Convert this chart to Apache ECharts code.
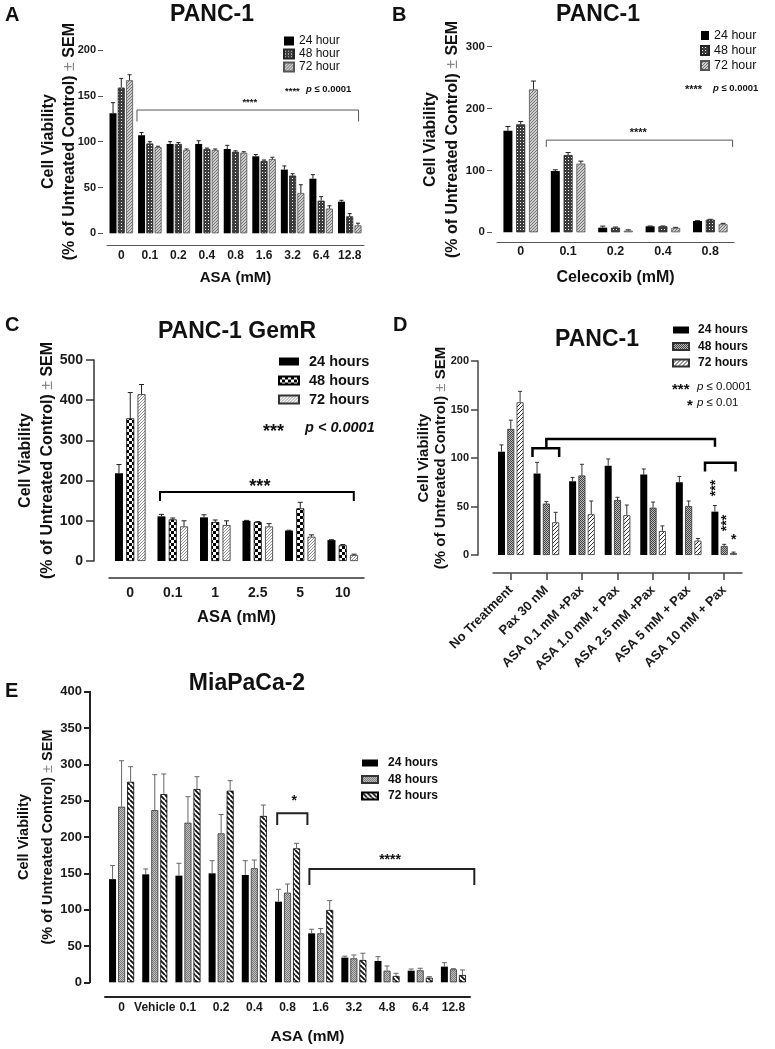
<!DOCTYPE html>
<html><head><meta charset="utf-8">
<script src="https://cdn.jsdelivr.net/npm/echarts@6/dist/echarts.min.js"></script>
<style>html,body{margin:0;padding:0;background:#fff}#c{width:775px;height:1049px}</style>
</head><body><div id="c"></div>
<script>
// ================= DATA =================
// Panel A : PANC-1, ASA
const catsA = ['0','0.1','0.2','0.4','0.8','1.6','3.2','6.4','12.8'];
const a24  = [131,107,97.5,97.5,92,84,69.5,59.6,34.5];
const a24e = [11.5,3,2.5,3.5,4,2,4,4.4,1.5];
const a48  = [159,98,97.5,92,89,79,63,35.6,18.5];
const a48e = [10,2,1.5,1,1,1,2,4.4,3];
const a72  = [167,94,91,91,88,81,44,27,8.7];
const a72e = [6,1,1,1,1,2,9,3,2.3];
// Panel B : PANC-1, Celecoxib
const catsB = ['0','0.1','0.2','0.4','0.8'];
const b24  = [164,99,7.5,9.7,18.3];
const b24e = [7,2,2.5,0.5,0.5];
const b48  = [174.5,125,7.5,9.7,20.5];
const b48e = [4.5,4,1,0.5,0.5];
const b72  = [231,111,2.7,7,13];
const b72e = [13.5,4,1.3,1,1.5];
// Panel C : PANC-1 GemR, ASA
const catsC = ['0','0.1','1','2.5','5','10'];
const c24  = [218,111,108.6,100,75.5,52];
const c24e = [22,5,6.4,1,1,1];
const c48  = [355,103.6,97,97,131,39];
const c48e = [64,3.4,5,1,15,2];
const c72  = [415,86,89.5,86,60.5,15];
const c72e = [24,14,10.5,7,4.5,2];
// Panel D : PANC-1, ASA + Paclitaxel
const catsD = ['No Treatment','Pax 30 nM','ASA 0.1 mM +Pax','ASA 1.0 mM + Pax','ASA 2.5 mM +Pax','ASA 5 mM + Pax','ASA 10 mM + Pax'];
const d24  = [106.5,84,76,92,83,75,44.7];
const d24e = [7,11.5,4,7,5.7,6,6.3];
const d48  = [130,53,82,56.7,48.8,50.5,9.3];
const d48e = [9,2,11.5,2.8,5.8,5.2,1.7];
const d72  = [157.4,33.7,42,41,24.7,14.8,2];
const d72e = [11.3,10.3,13.7,10.5,5.3,2.2,1];
// Panel E : MiaPaCa-2, ASA
const catsE = ['0','Vehicle','0.1','0.2','0.4','0.8','1.6','3.2','4.8','6.4','12.8'];
const e24  = [142,148.6,146.8,150,147.7,111,67.4,34,29.4,16,21.6];
const e24e = [18.6,7.4,17,17.4,19.7,17,5.6,2,5.9,2.3,5.4];
const e48  = [241.7,237,219.7,205,157,123.4,67.4,33,16,16.5,17.9];
const e48e = [63.3,48.8,35.8,26,11.3,11.9,6.6,4.6,6.5,2.8,0.9];
const e72  = [276,259,266,263.8,229,184.4,99.5,30.7,8.7,6.4,10];
const e72e = [20.8,27.7,17,13.7,15,6.9,12.9,9.3,3.7,1.4,7];
// series names
const namesAB = ['24 hour','48 hour','72 hour'];
const namesCDE = ['24 hours','48 hours','72 hours'];
// significance brackets: [xStart, xEnd, yTop, yLeftEnd, yRightEnd] (category units, data units)
const brA = [[0.55,8.31,134.5,122,122]];
const brB = [[0.54,4.47,149,138,138]];
const brC = [[0.7,5.26,171.6,149,149]];
const brD = [[0.61,1.36,110,101,101],[1.0,5.74,119.6,110,111.6],[5.46,6.32,95,86,86]];
const brE = [[4.69,5.6,232.6,216.5,216.5],[5.66,10.63,156,134,134]];
// star labels: [x, y, text, rotation]
const stA = [[4.5,145,'****',0]];
const stB = [[2.48,165,'****',0]];
const stC = [[3.05,194,'***',0]];
const stD = [[5.68,69,'***',90],[5.99,33,'***',90],[6.27,18.5,'*',0]];
const stE = [[5.2,253.6,'*',0],[8.09,172.9,'****',0]];

// ================= STYLE =================
const FF = "'Liberation Sans', Arial, Helvetica, sans-serif";
function pat(w,h,draw){const c=document.createElement('canvas');c.width=w;c.height=h;const g=c.getContext('2d');draw(g,w,h);return {image:c,repeat:'repeat'};}
function hatch(s,lw,fg,bg,dir){return pat(s,s,g=>{g.fillStyle=bg;g.fillRect(0,0,s,s);g.strokeStyle=fg;g.lineWidth=lw;g.beginPath();for(let o=-s;o<=s;o+=s){if(dir>0){g.moveTo(o,s);g.lineTo(o+s,0);}else{g.moveTo(o,0);g.lineTo(o+s,s);}}g.stroke();});}
function checker(cell,a,b){return pat(cell*2,cell*2,g=>{g.fillStyle=b;g.fillRect(0,0,cell*2,cell*2);g.fillStyle=a;g.fillRect(0,0,cell,cell);g.fillRect(cell,cell,cell,cell);});}
function dots(s,bg,fg){return pat(s,s,g=>{g.fillStyle=bg;g.fillRect(0,0,s,s);g.fillStyle=fg;g.fillRect(1,1,1,1);});}

const pAB48 = dots(3,'#3c3c3c','#ffffff');
const pAB72 = hatch(3,1,'#777','#cccccc',1);
const pC48 = checker(3,'#000','#fff');
const pC72 = hatch(3,0.8,'#777','#fff',1);
const pD48 = checker(1,'#444','#bbb');
const pD72 = hatch(4,1,'#333','#fff',1);
const pE48 = checker(1,'#7a7a7a','#c0c0c0');
const pE72 = hatch(5,1.8,'#111','#fff',-1);

const panels = [
 {key:'A', cats:catsA, vals:[a24,a48,a72], errs:[a24e,a48e,a72e], names:namesAB,
  fills:['#000',pAB48,pAB72], borders:['#000','#222','#555'],
  grid:[107,50,257,183.3], ymax:200, yint:50, yoff:4, yLine:false, yTick:5, yFS:11, yMargin:7,
  nameGap:22.5, nameFS:16, nameLH:21, xoff:12, xFS:12, xMargin:4, xName:'ASA (mM)', xNameGap:25, xNameFS:15, xNamePad:0,
  xTick:false, xRot:0, axisColor:'#555', axisW:1, bw:7, gap:0.18, errColor:'#222', cap:4, errW:1,
  brColor:'#555', brW:1, stFS:9.5, br:brA, st:stA,
  legend:{left:283,top:35,iw:10,ih:9,gap:1,fs:12,fw:'normal',pad:0}},
 {key:'B', cats:catsB, vals:[b24,b48,b72], errs:[b24e,b48e,b72e], names:namesAB,
  fills:['#000',pAB48,pAB72], borders:['#000','#222','#555'],
  grid:[497,46.7,237,185.6], ymax:300, yint:100, yoff:5, yLine:false, yTick:5, yFS:11.5, yMargin:7,
  nameGap:28, nameFS:16, nameLH:22, xoff:10, xFS:12.5, xMargin:3, xName:'Celecoxib (mM)', xNameGap:27, xNameFS:16, xNamePad:0,
  xTick:false, xRot:0, axisColor:'#555', axisW:1, bw:9, gap:0.42, errColor:'#222', cap:5, errW:1,
  brColor:'#555', brW:1, stFS:11, br:brB, st:stB,
  legend:{left:700,top:29,iw:8,ih:9,gap:2,fs:12.5,fw:'normal',pad:0}},
 {key:'C', cats:catsC, vals:[c24,c48,c72], errs:[c24e,c48e,c72e], names:namesCDE,
  fills:['#000',pC48,pC72], borders:['#000','#000','#333'],
  grid:[109,360,255,201], ymax:500, yint:100, yoff:15, yLine:true, yTick:8, yFS:14, yMargin:11,
  nameGap:35, nameFS:16, nameLH:22, xoff:17, xFS:14, xMargin:8, xName:'ASA (mM)', xNameGap:31, xNameFS:16.5, xNamePad:0,
  xTick:false, xRot:0, axisColor:'#333', axisW:1.5, bw:8, gap:0.41, errColor:'#222', cap:5, errW:1,
  brColor:'#000', brW:2, stFS:18, br:brC, st:stC,
  legend:{left:278,top:354,iw:20,ih:8,gap:4,fs:14.5,fw:'bold',pad:5}},
 {key:'D', cats:catsD, vals:[d24,d48,d72], errs:[d24e,d48e,d72e], names:namesCDE,
  fills:['#000',pD48,pD72], borders:['#000','#333','#333'],
  grid:[493,361,249,194], ymax:200, yint:50, yoff:15, yLine:true, yTick:7, yFS:11, yMargin:9,
  nameGap:29, nameFS:15, nameLH:17, xoff:18, xFS:13, xMargin:15, xName:'', xNameGap:0, xNameFS:12, xNamePad:0,
  xTick:true, xRot:45, axisColor:'#444', axisW:1.5, bw:7, gap:0.33, errColor:'#333', cap:4, errW:1,
  brColor:'#000', brW:2.5, stFS:14, br:brD, st:stD,
  legend:{left:672,top:324,iw:16,ih:7,gap:4.5,fs:12,fw:'bold',pad:4}},
 {key:'E', cats:catsE, vals:[e24,e48,e72], errs:[e24e,e48e,e72e], names:namesCDE,
  fills:['#000',pE48,pE72], borders:['#000','#333','#000'],
  grid:[105,691.7,365,290.6], ymax:400, yint:50, yoff:15, yLine:true, yTick:6, yFS:13, yMargin:8,
  nameGap:30, nameFS:14.5, nameLH:24, xoff:14, xFS:12, xMargin:5, xName:'ASA (mM)', xNameGap:32, xNameFS:15.5, xNamePad:40,
  xTick:false, xRot:0, axisColor:'#222', axisW:2, bw:7, gap:0.29, errColor:'#666', cap:5, errW:1,
  brColor:'#222', brW:2, stFS:14, br:brE, st:stE,
  legend:{left:361,top:757,iw:16,ih:7,gap:4.5,fs:12,fw:'bold',pad:5}}
];

const grids=[], xAxes=[], yAxes=[], legends=[], series=[];
panels.forEach((P,gi)=>{
  grids.push({left:P.grid[0],top:P.grid[1],width:P.grid[2],height:P.grid[3],containLabel:false,outerBoundsMode:'none'});
  xAxes.push({type:'category',gridIndex:gi,data:P.cats,offset:P.xoff,
    axisLine:{show:true,onZero:false,lineStyle:{color:P.axisColor,width:P.axisW}},
    axisTick:{show:P.xTick,alignWithLabel:true,length:7,lineStyle:{color:P.axisColor,width:P.axisW}},
    axisLabel:{interval:0,rotate:P.xRot,fontSize:P.xFS,fontWeight:'bold',fontFamily:FF,color:'#1a1a1a',margin:P.xMargin},
    splitLine:{show:false},
    name:P.xName,nameLocation:'middle',nameGap:P.xNameGap,nameMoveOverlap:false,
    nameTextStyle:{fontSize:P.xNameFS,fontWeight:'bold',fontFamily:FF,color:'#111',padding:[0,0,0,P.xNamePad]}});
  xAxes.push({type:'value',gridIndex:gi,min:-0.5,max:P.cats.length-0.5,show:false,axisLine:{onZero:false}});
  yAxes.push({type:'value',gridIndex:gi,min:0,max:P.ymax,interval:P.yint,offset:P.yoff,
    axisLine:{show:P.yLine,onZero:false,lineStyle:{color:P.axisColor,width:P.axisW}},
    axisTick:{show:true,length:P.yTick,lineStyle:{color:P.axisColor,width:P.axisW}},
    axisLabel:{fontSize:P.yFS,fontWeight:'bold',fontFamily:FF,color:'#1a1a1a',margin:P.yMargin},
    splitLine:{show:false},
    name:'Cell Viability\n(% of Untreated Control) {pm|±} SEM',nameLocation:'middle',nameRotate:90,nameGap:P.nameGap,
    nameMoveOverlap:false,
    nameTextStyle:{fontSize:P.nameFS,fontWeight:'bold',fontFamily:FF,color:'#111',lineHeight:P.nameLH,
      rich:{pm:{fontSize:P.nameFS,fontWeight:'normal',fontFamily:FF,color:'#888',lineHeight:P.nameLH}}}});
  const L=P.legend;
  legends.push({data:P.names.map(n=>P.key+'|'+n),left:L.left,top:L.top,orient:'vertical',icon:'rect',
    itemWidth:L.iw,itemHeight:L.ih,itemGap:L.gap,selectedMode:false,padding:0,
    formatter:n=>n.split('|')[1],
    textStyle:{fontFamily:FF,fontSize:L.fs,fontWeight:L.fw,color:'#111',padding:[0,0,0,L.pad]}});
  const step=P.bw*(1+P.gap);
  P.vals.forEach((vals,k)=>{
    series.push({type:'bar',name:P.key+'|'+P.names[k],xAxisIndex:gi*2,yAxisIndex:gi,data:vals,
      barWidth:P.bw,barGap:(P.gap*100)+'%',silent:true,z:2,
      itemStyle:{color:P.fills[k],borderColor:P.borders[k],borderWidth:k===0?0:0.8}});
    const errs=P.errs[k];
    const off=(k-1)*step;
    series.push({type:'custom',xAxisIndex:gi*2,yAxisIndex:gi,silent:true,z:4,
      data:vals.map((v,i)=>[i,v,v+errs[i]]),encode:{x:0,y:[1,2]},
      renderItem:(params,api)=>{
        const i=api.value(0);
        const p0=api.coord([i,api.value(1)]);
        const p1=api.coord([i,api.value(2)]);
        const x=p0[0]+off;
        return {type:'group',children:[
          {type:'line',shape:{x1:x,y1:p0[1],x2:x,y2:p1[1]},style:{stroke:P.errColor,lineWidth:P.errW}},
          {type:'line',shape:{x1:x-P.cap/2,y1:p1[1],x2:x+P.cap/2,y2:p1[1]},style:{stroke:P.errColor,lineWidth:P.errW}}]};
      }});
  });
  series.push({type:'custom',xAxisIndex:gi*2+1,yAxisIndex:gi,silent:true,z:5,
    data:P.br,encode:{x:[0,1],y:[2,3,4]},
    renderItem:(params,api)=>{
      const x1=api.value(0),x2=api.value(1),yt=api.value(2),yl=api.value(3),yr=api.value(4);
      return {type:'polyline',shape:{points:[api.coord([x1,yl]),api.coord([x1,yt]),api.coord([x2,yt]),api.coord([x2,yr])]},
        style:{stroke:P.brColor,lineWidth:P.brW,fill:null}};
    }});
  series.push({type:'custom',xAxisIndex:gi*2+1,yAxisIndex:gi,silent:true,z:6,
    data:P.st.map(s=>[s[0],s[1]]),encode:{x:0,y:1},
    renderItem:(params,api)=>{
      const s=P.st[params.dataIndex];
      const p=api.coord([s[0],s[1]]);
      const sh=0.24*P.stFS;
      const rot=s[3]||0;
      return {type:'text',x:p[0]+(rot?sh:0),y:p[1]+(rot?0:sh),rotation:rot*Math.PI/180,
        style:{text:s[2],fontSize:P.stFS,fontWeight:'bold',fontFamily:FF,fill:'#111',align:'center',verticalAlign:'middle'}};
    }});
});

function T(x,y,text,fs,opt){opt=opt||{};return {type:'text',x:x,y:y,z:10,silent:true,
  style:Object.assign({text:text,fontSize:fs,fontWeight:'bold',fontFamily:FF,fill:'#111',align:'left',verticalAlign:'middle'},opt)};}
const italP = (fs,fw)=>({p:{fontStyle:'italic',fontWeight:fw,fontSize:fs,fontFamily:FF,fill:'#111'}});
const graphic=[
  T(5,15.5,'A',20), T(392,15.5,'B',20), T(5,325,'C',20), T(393,325,'D',20), T(5,691,'E',20),
  T(212,15,'PANC-1',23,{align:'center'}), T(598,15,'PANC-1',23,{align:'center'}),
  T(237,332,'PANC-1 GemR',23,{align:'center'}), T(597,340,'PANC-1',23,{align:'center'}),
  T(247,684,'MiaPaCa-2',23,{align:'center'}),
  T(285,91,'****',9.5), T(306,89.3,'{p|p} ≤ 0.0001',9.5,{rich:italP(9.5,'bold')}),
  T(685,90,'****',11), T(713,88.3,'{p|p} ≤ 0.0001',9.5,{rich:italP(9.5,'bold')}),
  T(263,432,'***',18), T(305,428,'p < 0.0001',14.5,{fontStyle:'italic'}),
  T(672,390,'***',15), T(697,386.7,'{p|p} ≤ 0.0001',11.5,{fontWeight:'normal',rich:italP(11.5,'normal')}),
  T(687,406,'*',15), T(697,402.7,'{p|p} ≤ 0.01',11.5,{fontWeight:'normal',rich:italP(11.5,'normal')})
];

const chart=echarts.init(document.getElementById('c'),null,{renderer:'canvas'});
chart.setOption({animation:false,backgroundColor:'#fff',grid:grids,xAxis:xAxes,yAxis:yAxes,legend:legends,series:series,graphic:graphic});
</script></body></html>
